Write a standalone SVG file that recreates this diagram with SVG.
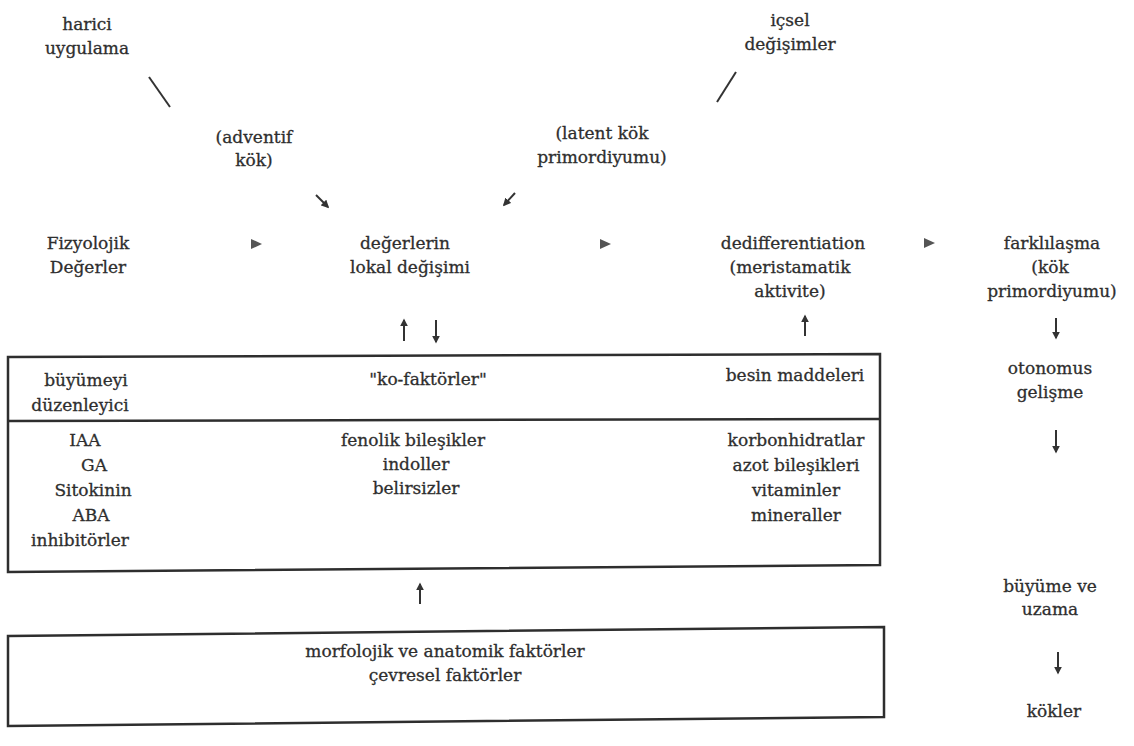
<svg xmlns="http://www.w3.org/2000/svg" width="1134" height="746" viewBox="0 0 1134 746">
<style>
  text { font-family: "DejaVu Serif", "Liberation Serif", serif; font-size: 17px; fill: #2e2e2e; stroke: #2e2e2e; stroke-width: 0.3; text-anchor: middle; }
  .box { fill: none; stroke: #2e2e2e; stroke-width: 2.5; }
  .ln { stroke: #333; stroke-width: 2; fill: none; }
  .arr { stroke: #333; stroke-width: 2; fill: none; marker-end: url(#ah); }
  .tri { fill: #555; }
</style>
<defs>
  <marker id="ah" viewBox="0 0 10 10" refX="8" refY="5" markerWidth="4" markerHeight="4" orient="auto">
    <path d="M0,0 L10,5 L0,10 z" fill="#333"/>
  </marker>
</defs>
<rect width="1134" height="746" fill="#ffffff"/>

<g id="harici"><text x="87" y="30">harici</text><text x="87" y="54">uygulama</text></g>
<g id="adventif"><text x="254" y="143">(adventif</text><text x="254" y="166">kök)</text></g>
<g id="latent"><text x="602" y="139">(latent kök</text><text x="602" y="163">primordiyumu)</text></g>
<g id="icsel"><text x="790" y="26">içsel</text><text x="790" y="50">değişimler</text></g>

<g id="fizyolojik"><text x="88" y="249">Fizyolojik</text><text x="88" y="273">Değerler</text></g>
<g id="lokal"><text x="405" y="249">değerlerin</text><text x="410" y="273">lokal değişimi</text></g>
<g id="dediff"><text x="793" y="249">dedifferentiation</text><text x="790" y="273">(meristamatik</text><text x="790" y="297">aktivite)</text></g>
<g id="farklilasma"><text x="1052" y="249">farklılaşma</text><text x="1050" y="273">(kök</text><text x="1052" y="297">primordiyumu)</text></g>

<g id="factors-box">
  <polygon class="box" points="8,357 880,354 880,565 8,572"/>
  <line class="box" x1="8" y1="421" x2="880" y2="419"/>
  <text x="86" y="386">büyümeyi</text><text x="80" y="411">düzenleyici</text>
  <text x="428" y="385">"ko-faktörler"</text>
  <text x="795" y="381">besin maddeleri</text>
  <text x="85" y="446">IAA</text><text x="94" y="471">GA</text><text x="93" y="496">Sitokinin</text><text x="91" y="521">ABA</text><text x="80" y="546">inhibitörler</text>
  <text x="413" y="446">fenolik bileşikler</text><text x="416" y="470">indoller</text><text x="416" y="494">belirsizler</text>
  <text x="796" y="446">korbonhidratlar</text><text x="796" y="471">azot bileşikleri</text><text x="796" y="496">vitaminler</text><text x="796" y="521">mineraller</text>
</g>

<g id="morfolojik-box">
  <polygon class="box" points="8,636 884,627 884,717 8,726"/>
  <text x="445" y="657">morfolojik ve anatomik faktörler</text>
  <text x="445" y="681">çevresel faktörler</text>
</g>

<g id="otonomus"><text x="1050" y="374">otonomus</text><text x="1050" y="398">gelişme</text></g>
<g id="buyume"><text x="1050" y="592">büyüme ve</text><text x="1050" y="615">uzama</text></g>
<g id="kokler"><text x="1054" y="717">kökler</text></g>

<g id="connectors">
  <line class="ln" x1="149" y1="77" x2="170" y2="107"/>
  <line class="ln" x1="736" y1="72" x2="717" y2="102"/>
  <line class="arr" x1="316" y1="195" x2="328" y2="207"/>
  <line class="arr" x1="515" y1="193" x2="504" y2="205"/>
  <polygon class="tri" points="251,239 262,244 251,249"/>
  <polygon class="tri" points="600,239 611,244 600,249"/>
  <polygon class="tri" points="924,238 935,243 924,248"/>
  <line class="arr" x1="404" y1="341" x2="404" y2="320"/>
  <line class="arr" x1="436" y1="320" x2="436" y2="342"/>
  <line class="arr" x1="805" y1="336" x2="805" y2="316"/>
  <line class="arr" x1="1056" y1="318" x2="1056" y2="338"/>
  <line class="arr" x1="1056" y1="430" x2="1056" y2="452"/>
  <line class="arr" x1="420" y1="604" x2="420" y2="584"/>
  <line class="arr" x1="1058" y1="652" x2="1058" y2="673"/>
</g>
</svg>
